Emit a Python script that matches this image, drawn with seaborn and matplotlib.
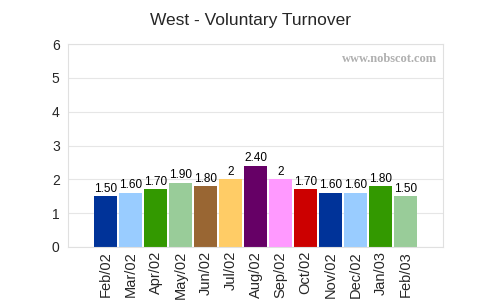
import pandas as pd
import matplotlib.pyplot as plt
import seaborn as sns

# Data
months = ["Feb/02", "Mar/02", "Apr/02", "May/02", "Jun/02", "Jul/02", "Aug/02",
          "Sep/02", "Oct/02", "Nov/02", "Dec/02", "Jan/03", "Feb/03"]
turnover = [1.5, 1.6, 1.7, 1.9, 1.8, 2.0, 2.4, 2.0, 1.7, 1.6, 1.6, 1.8, 1.5]
labels = ["1.50", "1.60", "1.70", "1.90", "1.80", "2", "2.40",
          "2", "1.70", "1.60", "1.60", "1.80", "1.50"]
colors = ["#003399", "#99ccff", "#339900", "#99cc99", "#996633", "#ffcc66",
          "#660066", "#ff99ff", "#cc0000", "#003399", "#99ccff", "#339900", "#99cc99"]

df = pd.DataFrame({"month": months, "turnover": turnover})

sns.set_style("white")
plt.rcParams["font.family"] = ["Liberation Sans", "DejaVu Sans"]

fig = plt.figure(figsize=(5, 3), dpi=100)
ax = fig.add_axes([0.136, 0.177, 0.75, 0.676])

sns.barplot(data=df, x="month", y="turnover", hue="month", order=months,
            palette=colors, legend=False, width=0.92, saturation=1,
            linewidth=0, ax=ax)

for i, (v, t) in enumerate(zip(turnover, labels)):
    ax.text(i, v + 0.04, t, ha="center", va="bottom", fontsize=8.5, color="black")

ax.set_xlim(-1.5, 13.5)
ax.set_ylim(0, 6)
ax.set_yticks(range(0, 7))
ax.set_xlabel("")
ax.set_ylabel("")
ax.tick_params(axis="x", rotation=90, labelsize=10.5, length=0, pad=3)
ax.tick_params(axis="y", labelsize=10, length=0, pad=6)
ax.yaxis.grid(True, color="#e6e6e6", linewidth=0.8)
ax.set_axisbelow(True)
for s in ax.spines.values():
    s.set_color("#e0e0e0")
    s.set_linewidth(0.8)

ax.text(0.985, 0.955, "www.nobscot.com", transform=ax.transAxes, ha="right",
        va="top", fontsize=9, color="#b0b0b0", fontweight="bold",
        family=["Liberation Serif", "DejaVu Serif"])

fig.suptitle("West - Voluntary Turnover", y=0.955, fontsize=12.5)

fig.savefig("out.png", dpi=100)
